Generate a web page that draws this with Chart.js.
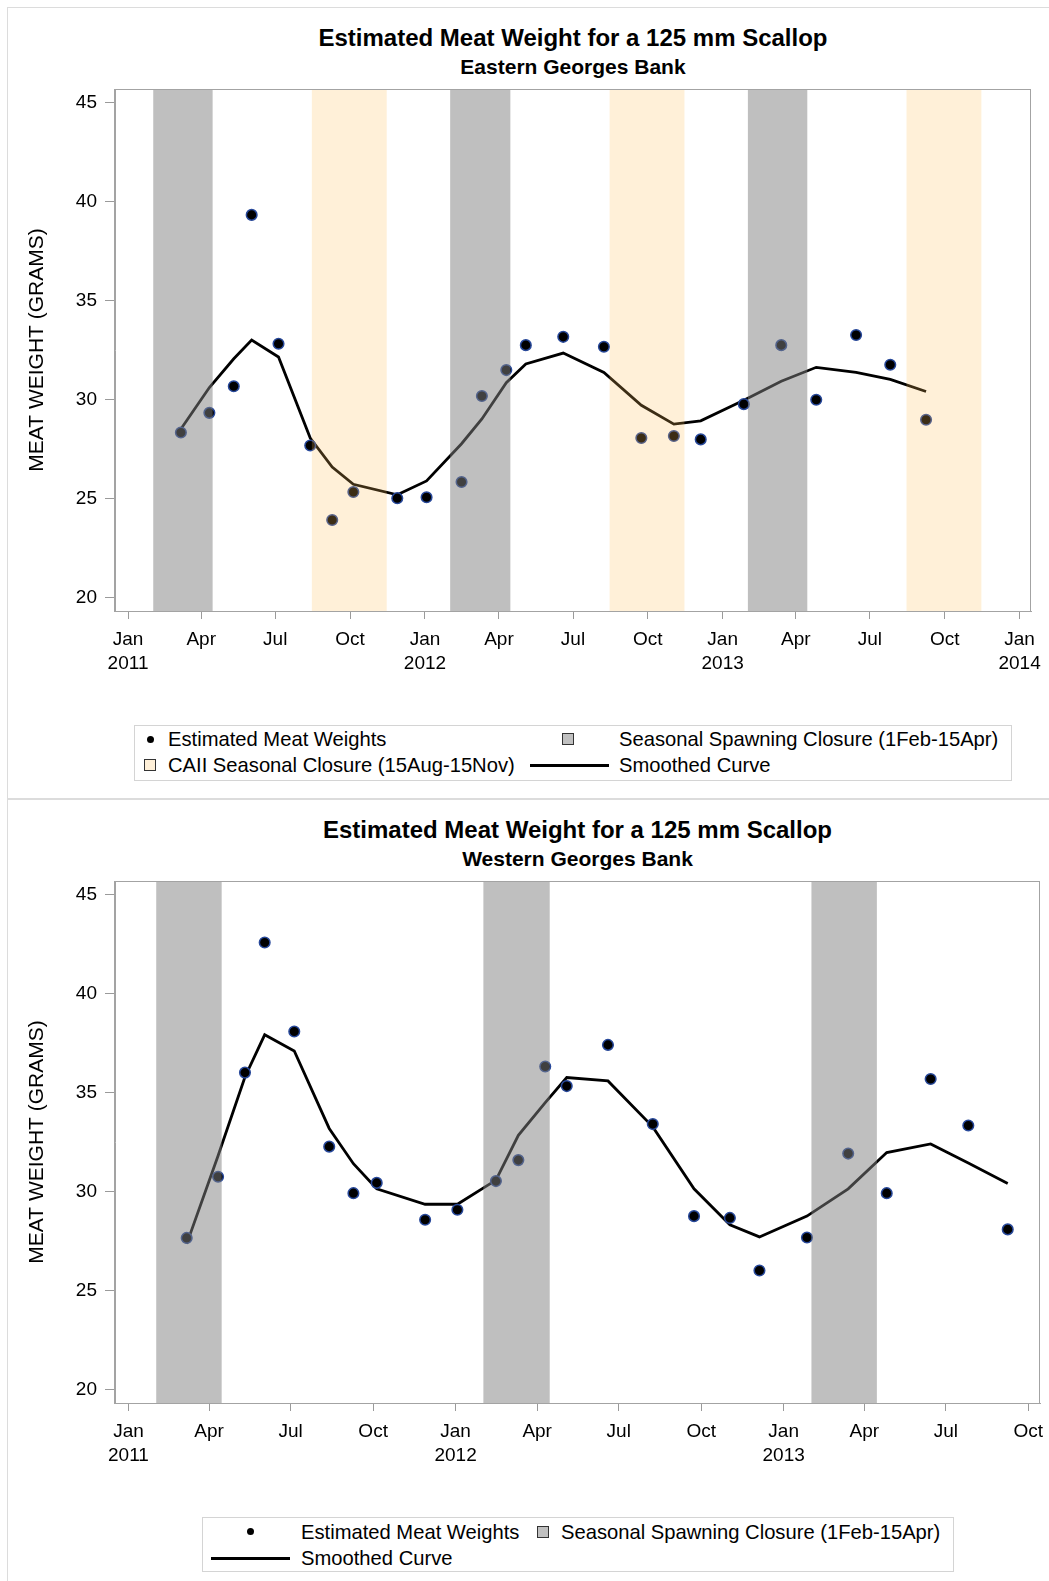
<!DOCTYPE html>
<html>
<head>
<meta charset="utf-8">
<title>Estimated Meat Weight for a 125 mm Scallop</title>
<script src="https://cdn.jsdelivr.net/npm/chart.js@4.4.1/dist/chart.umd.min.js"></script>
<style>
  html, body { margin: 0; padding: 0; background: #fff; }
  body { width: 1049px; height: 1581px; position: relative; overflow: hidden;
         font-family: "Liberation Sans", Arial, sans-serif; color: #000; }
  .frame { position: absolute; border: 1px solid #dcdcdc; box-sizing: border-box; }
  .panel { position: absolute; left: 0; width: 1049px; height: 792px; }
  .title { position: absolute; text-align: center; font-weight: bold; white-space: nowrap; }
  .t1 { font-size: 24px; line-height: 24px; top: 26px; }
  .t2 { font-size: 21px; line-height: 21px; top: 55.5px; }
  canvas { position: absolute; left: 0; top: 0; }
  .legend { position: absolute; border: 1px solid #d4d4d4; box-sizing: border-box; }
  .item { position: absolute; font-size: 20.2px; line-height: 20px; white-space: nowrap; }
  .sym { position: absolute; box-sizing: border-box; }
</style>
</head>
<body>
<div class="frame" style="left:7px;top:7px;width:1060px;height:792px"></div>
<div class="frame" style="left:7px;top:799px;width:1060px;height:800px"></div>
<div class="panel" id="east" style="top:0"></div>
<div class="panel" id="west" style="top:792px"></div>

<script>
// survey dates (shared by both areas)
const sampleDates = [
  "2011-03-07","2011-04-11","2011-05-11","2011-06-02","2011-07-05","2011-08-13",
  "2011-09-09","2011-10-05","2011-11-28","2012-01-03","2012-02-15","2012-03-11",
  "2012-04-10","2012-05-04","2012-06-19","2012-08-08","2012-09-23","2012-11-02",
  "2012-12-05","2013-01-27","2013-03-14","2013-04-26","2013-06-14","2013-07-26",
  "2013-09-08"
];

const eastWeights = [28.33, 29.32, 30.66, 39.32, 32.81, 27.67, 23.91, 25.32, 25.01, 25.06,
                     25.83, 30.17, 31.48, 32.74, 33.16, 32.66, 28.05, 28.15, 27.98, 29.76,
                     32.74, 29.98, 33.25, 31.75, 28.97];
const eastSmooth  = [28.5, 30.6, 32.05, 33.0, 32.14, 28.05, 26.58, 25.71, 25.18, 25.88,
                     27.76, 29.01, 30.84, 31.79, 32.34, 31.36, 29.7, 28.75, 28.92, 29.96,
                     30.92, 31.62, 31.36, 31.01, 30.4];

const westWeights = [27.65, 30.74, 36.0, 42.57, 38.08, 32.26, 29.91, 30.43, 28.57, 29.07,
                     30.52, 31.58, 36.31, 35.32, 37.4, 33.4, 28.75, 28.66, 26.0, 27.67,
                     31.91, 29.91, 35.68, 33.33, 28.08];
const westSmooth  = [27.35, 31.8, 35.78, 37.91, 37.09, 33.18, 31.4, 30.13, 29.35, 29.35,
                     30.57, 32.83, 34.48, 35.75, 35.58, 33.26, 30.13, 28.31, 27.7, 28.75,
                     30.13, 31.96, 32.4, 31.44, 30.4];

// closures
const spawningClosures = [["2011-02-01","2011-04-15"],["2012-02-01","2012-04-15"],["2013-02-01","2013-04-15"]];
const caiiClosures     = [["2011-08-15","2011-11-15"],["2012-08-15","2012-11-15"],["2013-08-15","2013-11-15"]];

// axes
const yTicks = [20, 25, 30, 35, 40, 45];
const eastTickDates = ["2011-01-01","2011-04-01","2011-07-01","2011-10-01","2012-01-01","2012-04-01",
                       "2012-07-01","2012-10-01","2013-01-01","2013-04-01","2013-07-01","2013-10-01","2014-01-01"];
const eastTickLabels = [["Jan","2011"],"Apr","Jul","Oct",["Jan","2012"],"Apr","Jul","Oct",["Jan","2013"],"Apr","Jul","Oct",["Jan","2014"]];
const westTickDates = eastTickDates.slice(0, 12);
const westTickLabels = eastTickLabels.slice(0, 12);

const day = s => (Date.parse(s) - Date.parse("2011-01-01")) / 864e5;

const GREY_BAND  = "rgba(128,128,128,0.5)";
const PEACH_BAND = "rgba(255,191,89,0.235)";

function makeChart(panel, o) {
  const t1 = document.createElement("div");
  t1.className = "title t1";
  t1.style.left = "115px"; t1.style.width = (o.plotRight - 115) + "px";
  t1.textContent = "Estimated Meat Weight for a 125 mm Scallop";
  const t2 = document.createElement("div");
  t2.className = "title t2";
  t2.style.left = "115px"; t2.style.width = (o.plotRight - 115) + "px";
  t2.textContent = o.subtitle;
  panel.append(t1, t2);

  const canvas = document.createElement("canvas");
  canvas.width = 1049; canvas.height = 700;
  panel.appendChild(canvas);

  const bands = {
    id: "bands",
    afterDatasetsDraw(chart) {
      const { ctx, chartArea: a, scales: { x } } = chart;
      ctx.save();
      ctx.beginPath(); ctx.rect(a.left, a.top, a.width, a.height); ctx.clip();
      o.bands.forEach(b => {
        ctx.fillStyle = b.color;
        b.ranges.forEach(([s, e]) => {
          const x0 = x.getPixelForValue(day(s)), x1 = x.getPixelForValue(day(e));
          ctx.fillRect(x0, a.top, x1 - x0, a.height);
        });
      });
      ctx.restore();
    },
    afterDraw(chart) {
      const { ctx, chartArea: a } = chart;
      ctx.save();
      ctx.strokeStyle = "#a3a3a3"; ctx.lineWidth = 1;
      ctx.strokeRect(Math.round(a.left) - 0.5, Math.round(a.top) + 0.5, Math.round(a.width), Math.round(a.height));
      ctx.restore();
    }
  };

  new Chart(canvas, {
    type: "scatter",
    data: {
      datasets: [
        {
          label: "Estimated Meat Weights",
          data: sampleDates.map((d, i) => ({ x: day(d), y: o.weights[i] })),
          pointRadius: 5.3, pointBackgroundColor: "#000", pointBorderColor: "#27489a", pointBorderWidth: 1.5
        },
        {
          label: "Smoothed Curve",
          data: sampleDates.map((d, i) => ({ x: day(d), y: o.smooth[i] })),
          showLine: true, borderColor: "#000", borderWidth: 2.8, pointRadius: 0, tension: 0
        }
      ]
    },
    options: {
      responsive: false, animation: false, devicePixelRatio: 1,
      layout: { padding: { top: 89, right: 1049 - o.plotRight, bottom: 0, left: 0 } },
      plugins: { legend: { display: false }, tooltip: { enabled: false } },
      scales: {
        x: {
          type: "linear", min: day(o.xMin), max: day(o.xMax),
          afterBuildTicks: ax => { ax.ticks = o.tickDates.map(d => ({ value: day(d) })); },
          afterFit: ax => { ax.height = 89; ax.paddingLeft = 0; ax.paddingRight = 0; },
          grid: { drawOnChartArea: false, tickLength: 8, color: "#9a9a9a" },
          border: { display: true, color: "#a3a3a3" },
          ticks: { autoSkip: false, maxRotation: 0, padding: 8, color: "#000",
                   font: { family: "'Liberation Sans', Arial", size: 19, lineHeight: 1.3 },
                   callback: (v, i) => o.tickLabels[i] }
        },
        y: {
          min: 19.31, max: 45.68,
          afterBuildTicks: ax => { ax.ticks = yTicks.map(v => ({ value: v })); },
          afterFit: ax => { ax.width = 115; ax.paddingTop = 0; ax.paddingBottom = 0; },
          grid: { drawOnChartArea: false, tickLength: 10, color: "#9a9a9a" },
          border: { display: true, color: "#a3a3a3" },
          ticks: { padding: 8, color: "#000", font: { family: "'Liberation Sans', Arial", size: 19 } },
          title: { display: true, text: "MEAT WEIGHT (GRAMS)", color: "#000",
                   font: { family: "'Liberation Sans', Arial", size: 21 }, padding: { top: 25, bottom: 0 } }
        }
      }
    },
    plugins: [bands]
  });

  // legend below the chart
  const box = document.createElement("div");
  box.className = "legend";
  Object.assign(box.style, { left: o.legend.left + "px", top: o.legend.top + "px",
                             width: o.legend.width + "px", height: o.legend.height + "px" });
  panel.appendChild(box);
  o.legend.items.forEach(it => {
    const s = document.createElement("div");
    s.className = "sym";
    if (it.kind === "dot") {
      Object.assign(s.style, { left: (it.sx - 3.5) + "px", top: (it.y - 3.5) + "px", width: "7px", height: "7px",
                               borderRadius: "50%", background: "#000" });
    } else if (it.kind === "line") {
      Object.assign(s.style, { left: it.sx + "px", top: (it.y - 1.5) + "px", width: it.sw + "px", height: "3px",
                               background: "#000" });
    } else {
      Object.assign(s.style, { left: (it.sx - 6) + "px", top: (it.y - 6) + "px", width: "12px", height: "12px",
                               background: it.fill, border: "1px solid #333" });
    }
    const t = document.createElement("div");
    t.className = "item";
    t.style.left = it.tx + "px"; t.style.top = (it.y - 10) + "px";
    t.textContent = it.text;
    panel.append(s, t);
  });
}

makeChart(document.getElementById("east"), {
  subtitle: "Eastern Georges Bank",
  weights: eastWeights, smooth: eastSmooth,
  xMin: "2010-12-16", xMax: "2014-01-15", plotRight: 1031,
  tickDates: eastTickDates, tickLabels: eastTickLabels,
  bands: [{ color: GREY_BAND, ranges: spawningClosures }, { color: PEACH_BAND, ranges: caiiClosures }],
  legend: {
    left: 134, top: 725, width: 878, height: 56,
    items: [
      { kind: "dot", sx: 150, tx: 168, y: 739, text: "Estimated Meat Weights" },
      { kind: "square", fill: "#c0c0c0", sx: 568, tx: 619, y: 739, text: "Seasonal Spawning Closure (1Feb-15Apr)" },
      { kind: "square", fill: "#fff0d8", sx: 150, tx: 168, y: 765, text: "CAII Seasonal Closure (15Aug-15Nov)" },
      { kind: "line", sx: 530, sw: 79, tx: 619, y: 765, text: "Smoothed Curve" }
    ]
  }
});

makeChart(document.getElementById("west"), {
  subtitle: "Western Georges Bank",
  weights: westWeights, smooth: westSmooth,
  xMin: "2010-12-17", xMax: "2013-10-14", plotRight: 1040,
  tickDates: westTickDates, tickLabels: westTickLabels,
  bands: [{ color: GREY_BAND, ranges: spawningClosures }],
  legend: {
    left: 202, top: 725, width: 752, height: 55,
    items: [
      { kind: "dot", sx: 250, tx: 301, y: 739.5, text: "Estimated Meat Weights" },
      { kind: "square", fill: "#c0c0c0", sx: 543, tx: 561, y: 739.5, text: "Seasonal Spawning Closure (1Feb-15Apr)" },
      { kind: "line", sx: 211, sw: 79, tx: 301, y: 766, text: "Smoothed Curve" }
    ]
  }
});
</script>
</body>
</html>
